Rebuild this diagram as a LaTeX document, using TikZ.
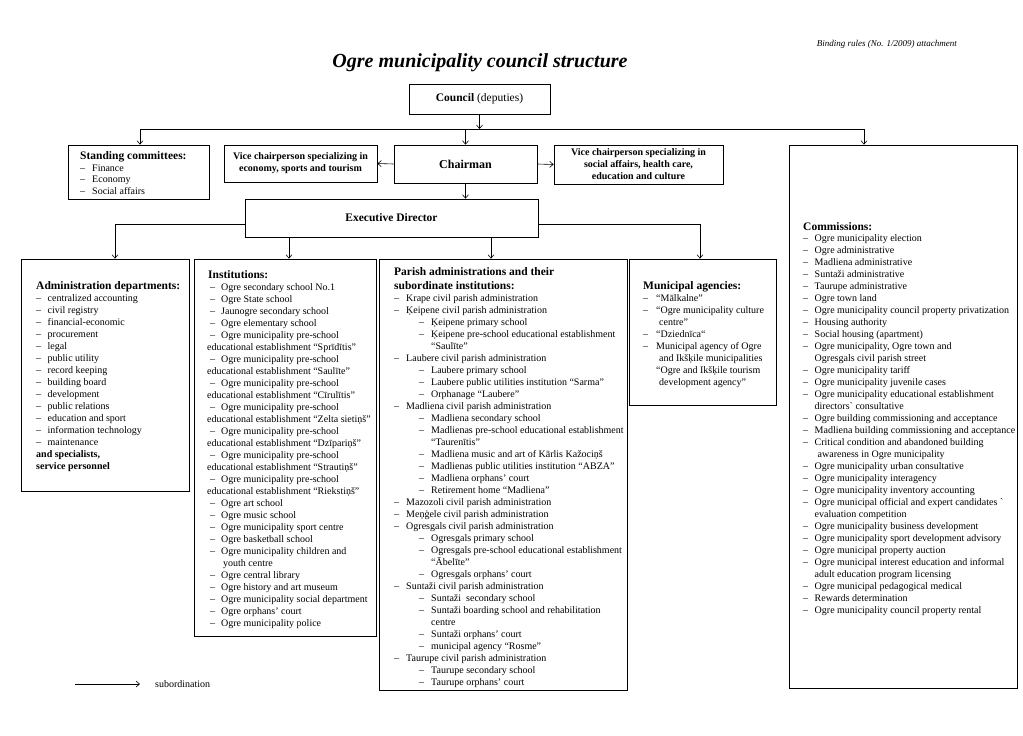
\documentclass[tikz,border=0pt]{standalone}
\usepackage{fontspec}
\setmainfont{Liberation Serif}
\usetikzlibrary{arrows.meta}
\newcommand\dd{\makebox[11.5pt][l]{--}}
\newcommand\ind{\hspace*{11.5pt}}
\newcommand\di{\hspace*{3pt}\makebox[11pt][l]{--}}
\newcommand\pb{\hspace*{25pt}\makebox[12pt][l]{--}}
\newcommand\pc{\hspace*{37pt}}
\newcommand\pa{\makebox[12pt][l]{--}}
\begin{document}
\begin{tikzpicture}[x=1pt,y=-1pt,
  box/.style={draw, line width=0.7pt, inner sep=0pt},
  arr/.style={line width=0.6pt, -{Straight Barb[length=3.5pt,width=6pt,line width=0.6pt]}},
  ln/.style={line width=0.6pt},
  hdr/.style={anchor=base west, inner sep=0pt, font=\fontsize{11.5}{13}\selectfont\bfseries},
  lst/.style={anchor=base west, inner sep=0pt, font=\fontsize{10}{12}\selectfont},
  vc/.style={box, align=center, font=\fontsize{10}{12}\selectfont\bfseries},
]
\useasboundingbox (0,0) rectangle (1023,736);

% title
\node[anchor=base east, inner sep=0pt, font=\fontsize{9}{11}\selectfont\itshape] (bind) at (957,46) {Binding rules (No. 1/2009) attachment};
\node[anchor=base, inner sep=0pt, font=\fontsize{20}{24}\selectfont\bfseries\itshape] (title) at (480,67) {Ogre municipality council structure};

% boxes
\node[box, minimum width=141pt, minimum height=30pt, font=\fontsize{11.5}{13}\selectfont] (council) at (479.5,99) {\textbf{Council} (deputies)};
\node[box, minimum width=141pt, minimum height=54pt] (stand) at (138.5,172) {};
\node[vc, minimum width=153pt, minimum height=37pt] (vicel) at (300.5,163.5) {Vice chairperson specializing in\\economy, sports and tourism};
\node[box, minimum width=143pt, minimum height=38pt, font=\fontsize{12}{14}\selectfont\bfseries] (chair) at (465.5,164) {Chairman};
\node[vc, minimum width=169pt, minimum height=39pt] (vicer) at (638.5,164.5) {Vice chairperson specializing in\\social affairs, health care,\\education and culture};
\node[box, minimum width=228pt, minimum height=543pt] (comm) at (903,416.5) {};
\node[box, minimum width=293pt, minimum height=38pt, font=\fontsize{11.5}{13}\selectfont\bfseries] (exec) at (391.5,218) {Executive Director};
\node[box, minimum width=168pt, minimum height=232pt] (admin) at (105,375) {};
\node[box, minimum width=182pt, minimum height=377pt] (inst) at (285,447.5) {};
\node[box, minimum width=248pt, minimum height=431pt] (parish) at (503,474.5) {};
\node[box, minimum width=147pt, minimum height=146pt] (muni) at (702.5,332) {};

% connectors
\coordinate (busL) at (140,129);
\coordinate (busR) at (864,129);
\draw[ln] (busL) -- (busR);
\draw[arr] (council.south) -- (council.south |- busL);
\draw[arr] (busL) -- (busL |- stand.north);
\draw[arr] (chair.north |- busL) -- (chair.north);
\draw[arr] (busR) -- (busR |- comm.north);
\draw[arr] (chair.west) -- (vicel.east);
\draw[arr] (chair.east) -- (vicer.west);
\draw[arr] (chair.south) -- (chair.south |- exec.north);
\coordinate (eL) at (115,224);
\coordinate (eR) at (700,224);
\coordinate (ia) at (289,0);
\coordinate (pa) at (491,0);
\draw[arr] (exec.west |- eL) -- (eL) -- (eL |- admin.north);
\draw[arr] (exec.east |- eR) -- (eR) -- (eR |- muni.north);
\draw[arr] (exec.south -| ia) -- (ia |- inst.north);
\draw[arr] (exec.south -| pa) -- (pa |- parish.north);

% legend
\coordinate (lg1) at (75,684);
\coordinate (lg2) at (140,684);
\draw[arr] (lg1) -- (lg2);
\node[anchor=base west, inner sep=0pt, font=\fontsize{10}{12}\selectfont] (lgt) at (155,687) {subordination};

% standing committees
\node[hdr] (standh) at (80,159) {Standing committees:};
\node[lst, font=\fontsize{10}{11.5}\selectfont] (standt) at (80,171) {\begin{tabular}[t]{@{}l@{}}
\pa Finance\\ \pa Economy\\ \pa Social affairs\end{tabular}};

% commissions
\node[hdr] (commh) at (803,230) {Commissions:};
\node[lst] (commt) at (803,241) {\begin{tabular}[t]{@{}l@{}}
\dd Ogre municipality election\\
\dd Ogre administrative\\
\dd Madliena administrative\\
\dd Suntaži administrative\\
\dd Taurupe administrative\\
\dd Ogre town land\\
\dd Ogre municipality council property privatization\\
\dd Housing authority\\
\dd Social housing (apartment)\\
\dd Ogre municipality, Ogre town and\\
\ind Ogresgals civil parish street\\
\dd Ogre municipality tariff\\
\dd Ogre municipality juvenile cases\\
\dd Ogre municipality educational establishment\\
\ind directors\textasciigrave{} consultative\\
\dd Ogre building commissioning and acceptance\\
\dd Madliena building commissioning and acceptance\\
\dd Critical condition and abandoned building\\
\ind\hspace*{3pt}awareness in Ogre municipality\\
\dd Ogre municipality urban consultative\\
\dd Ogre municipality interagency\\
\dd Ogre municipality inventory accounting\\
\dd Ogre municipal official and expert candidates \textasciigrave\\
\ind evaluation competition\\
\dd Ogre municipality business development\\
\dd Ogre municipality sport development advisory\\
\dd Ogre municipal property auction\\
\dd Ogre municipal interest education and informal\\
\ind adult education program licensing\\
\dd Ogre municipal pedagogical medical\\
\dd Rewards determination\\
\dd Ogre municipality council property rental
\end{tabular}};

% administration
\node[hdr] (adminh) at (36,289) {Administration departments:};
\node[lst] (admint) at (36,301) {\begin{tabular}[t]{@{}l@{}}
\dd centralized accounting\\
\dd civil registry\\
\dd financial-economic\\
\dd procurement\\
\dd legal\\
\dd public utility\\
\dd record keeping\\
\dd building board\\
\dd development\\
\dd public relations\\
\dd education and sport\\
\dd information technology\\
\dd maintenance\\
\textbf{and specialists,}\\
\textbf{service personnel}
\end{tabular}};

% institutions
\node[hdr] (insth) at (208,278) {Institutions:};
\node[lst] (instt) at (207,290) {\begin{tabular}[t]{@{}l@{}}
\di Ogre secondary school No.1\\
\di Ogre State school\\
\di Jaunogre secondary school\\
\di Ogre elementary school\\
\di Ogre municipality pre-school\\
educational establishment “Sprīdītis”\\
\di Ogre municipality pre-school\\
educational establishment “Saulīte”\\
\di Ogre municipality pre-school\\
educational establishment “Cīrulītis”\\
\di Ogre municipality pre-school\\
educational establishment “Zelta sietiņš”\\
\di Ogre municipality pre-school\\
educational establishment “Dzīpariņš”\\
\di Ogre municipality pre-school\\
educational establishment “Strautiņš”\\
\di Ogre municipality pre-school\\
educational establishment “Riekstiņš”\\
\di Ogre art school\\
\di Ogre music school\\
\di Ogre municipality sport centre\\
\di Ogre basketball school\\
\di Ogre municipality children and\\
\hspace*{16pt}youth centre\\
\di Ogre central library\\
\di Ogre history and art museum\\
\di Ogre municipality social department\\
\di Ogre orphans' court\\
\di Ogre municipality police
\end{tabular}};

% parish
\node[hdr] (parh1) at (394,275) {Parish administrations and their};
\node[hdr] (parh2) at (394,289) {subordinate institutions:};
\node[lst] (part) at (394,301) {\begin{tabular}[t]{@{}l@{}}
\pa Krape civil parish administration\\
\pa Ķeipene civil parish administration\\
\pb Ķeipene primary school\\
\pb Ķeipene pre-school educational establishment\\
\pc “Saulīte”\\
\pa Laubere civil parish administration\\
\pb Laubere primary school\\
\pb Laubere public utilities institution “Sarma”\\
\pb Orphanage “Laubere”\\
\pa Madliena civil parish administration\\
\pb Madliena secondary school\\
\pb Madlienas pre-school educational establishment\\
\pc “Taurenītis”\\
\pb Madliena music and art of Kārlis Kažociņš\\
\pb Madlienas public utilities institution “ABZA”\\
\pb Madliena orphans' court\\
\pb Retirement home “Madliena”\\
\pa Mazozoli civil parish administration\\
\pa Meņģele civil parish administration\\
\pa Ogresgals civil parish administration\\
\pb Ogresgals primary school\\
\pb Ogresgals pre-school educational establishment\\
\pc “Ābelīte”\\
\pb Ogresgals orphans' court\\
\pa Suntaži civil parish administration\\
\pb Suntaži\ \ secondary school\\
\pb Suntaži boarding school and rehabilitation\\
\pc centre\\
\pb Suntaži orphans' court\\
\pb municipal agency “Rosme”\\
\pa Taurupe civil parish administration\\
\pb Taurupe secondary school\\
\pb Taurupe orphans' court
\end{tabular}};

% municipal agencies
\node[hdr] (munih) at (643,289) {Municipal agencies:};
\node[lst] (munit) at (643,301) {\begin{tabular}[t]{@{}l@{}}
\makebox[13pt][l]{--}“Mālkalne”\\
\makebox[13pt][l]{--}“Ogre municipality culture\\
\hspace*{16pt}centre”\\
\makebox[13pt][l]{--}“Dziednīca“\\
\makebox[13pt][l]{--}Municipal agency of Ogre\\
\hspace*{16pt}and Ikšķile municipalities\\
\hspace*{13pt}“Ogre and Ikšķile tourism\\
\hspace*{16pt}development agency”
\end{tabular}};
\end{tikzpicture}
\end{document}
